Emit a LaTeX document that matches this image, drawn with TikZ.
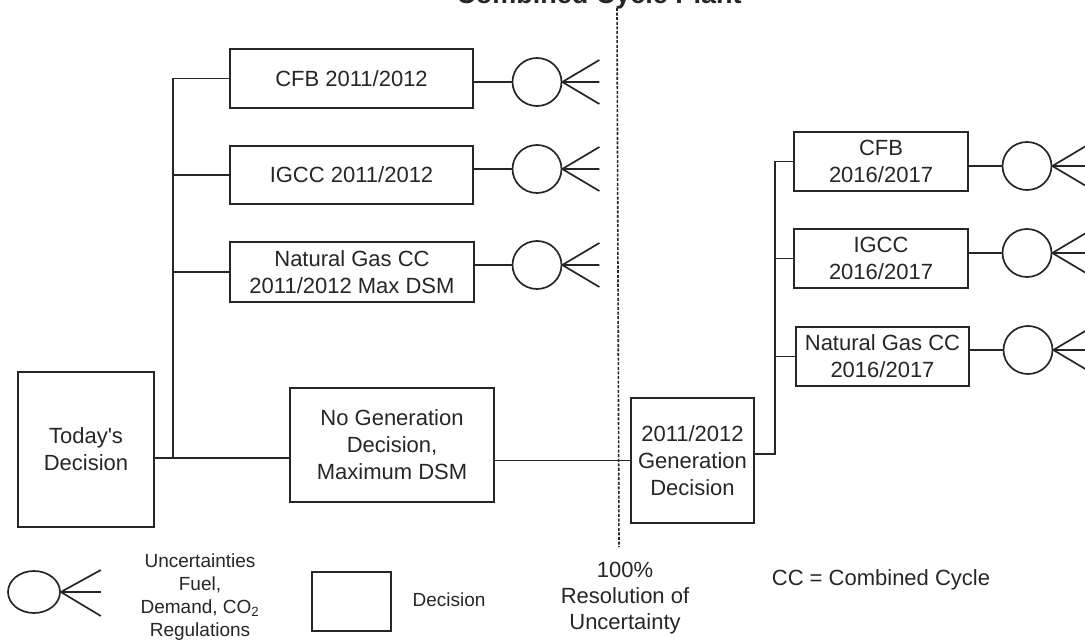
\documentclass[tikz,border=0pt]{standalone}
\usepackage{fontspec}
\setmainfont{Liberation Sans}
\usetikzlibrary{positioning,shapes.geometric}
\definecolor{ink}{HTML}{262626}

\begin{document}
\begin{tikzpicture}[x=1pt,y=-1pt,line width=1.7pt,color=ink,
  decbox/.style={draw,rectangle,inner sep=0pt,align=center,font=\fontsize{22}{27}\selectfont},
  chance/.style={draw,ellipse,inner sep=0pt,minimum width=49,minimum height=48},
  note/.style={align=center}]
\clip (0,0) rectangle (1085,644);
\node[font=\bfseries\fontsize{27}{32}\selectfont,anchor=base] (title) at (599,4) {Combined Cycle Plant};
\node[decbox,minimum width=136,minimum height=155] (today) at (86,449.5) {Today\textquotesingle s\\Decision};
\node[decbox,minimum width=243,minimum height=59] (cfb1) at (351.5,78.5) {CFB 2011/2012};
\node[decbox,minimum width=243,minimum height=58] (igcc1) at (351.5,175) {IGCC 2011/2012};
\node[decbox,minimum width=244,minimum height=60] (ng1) at (352,272) {Natural Gas CC\\2011/2012 Max DSM};
\node[decbox,minimum width=204,minimum height=114] (nogen) at (392,445) {No Generation\\Decision,\\Maximum DSM};
\node[decbox,minimum width=123,minimum height=125] (gen) at (692.5,460.5) {2011/2012\\Generation\\Decision};
\node[decbox,minimum width=174,minimum height=59] (cfb2) at (881,161.5) {CFB\\2016/2017};
\node[decbox,minimum width=174,minimum height=59] (igcc2) at (881,258.5) {IGCC\\2016/2017};
\node[decbox,minimum width=173,minimum height=59] (ng2) at (882.5,356.5) {Natural Gas CC\\2016/2017};
\node[chance] (u1) at (537,82) {};
\node[chance] (u2) at (537,169) {};
\node[chance] (u3) at (537,265) {};
\node[chance] (u4) at (1027,166) {};
\node[chance] (u5) at (1027,253) {};
\node[chance] (u6) at (1028,350) {};
\coordinate (tr1) at (173,458);
\coordinate (tr2) at (775,454);
\draw (today.east |- tr1) -- (nogen.west |- tr1);
\draw (cfb1.west) -| (tr1);
\draw (igcc1.west) -- (igcc1.west -| tr1);
\draw (ng1.west) -- (ng1.west -| tr1);
\draw (nogen.east |- gen.west) -- (gen.west);
\draw (gen.east |- tr2) -- (tr2) |- (cfb2.west);
\draw (igcc2.west) -- (igcc2.west -| tr2);
\draw (ng2.west) -- (ng2.west -| tr2);
\foreach \b/\u in {cfb1/u1,igcc1/u2,ng1/u3,cfb2/u4,igcc2/u5,ng2/u6}
  \draw (\b.east |- \u.west) -- (\u.west);
\foreach \i in {1,...,6}
  \draw (u\i.east) -- ++(37,-22) (u\i.east) -- ++(37,0) (u\i.east) -- ++(37,22);
\coordinate (rtop) at (617,8);
\coordinate (rbot) at (619,547);
\draw[dash pattern=on 3pt off 1.6pt,line width=1.6pt] (rtop) -- (rbot);
% legend
\node[chance,minimum width=52,minimum height=42] (ukey) at (34,592) {};
\draw (ukey.east) -- ++(40,-22) (ukey.east) -- ++(40,0) (ukey.east) -- ++(40,24);
\node[note,font=\fontsize{19}{23}\selectfont] (ukeytxt) at (200,597) {Uncertainties\\Fuel,\\Demand, CO\textsubscript{2}\\Regulations};
\node[decbox,minimum width=79,minimum height=59] (dkey) at (351.5,601.5) {};
\node[note,font=\fontsize{19}{23}\selectfont] (dkeytxt) at (449,600) {Decision};
\node[note,font=\fontsize{22}{26}\selectfont] (resol) at (625,598) {100\%\\Resolution of\\Uncertainty};
\node[note,font=\fontsize{22}{26}\selectfont] (ccnote) at (881,580) {CC = Combined Cycle};
\end{tikzpicture}
\end{document}
